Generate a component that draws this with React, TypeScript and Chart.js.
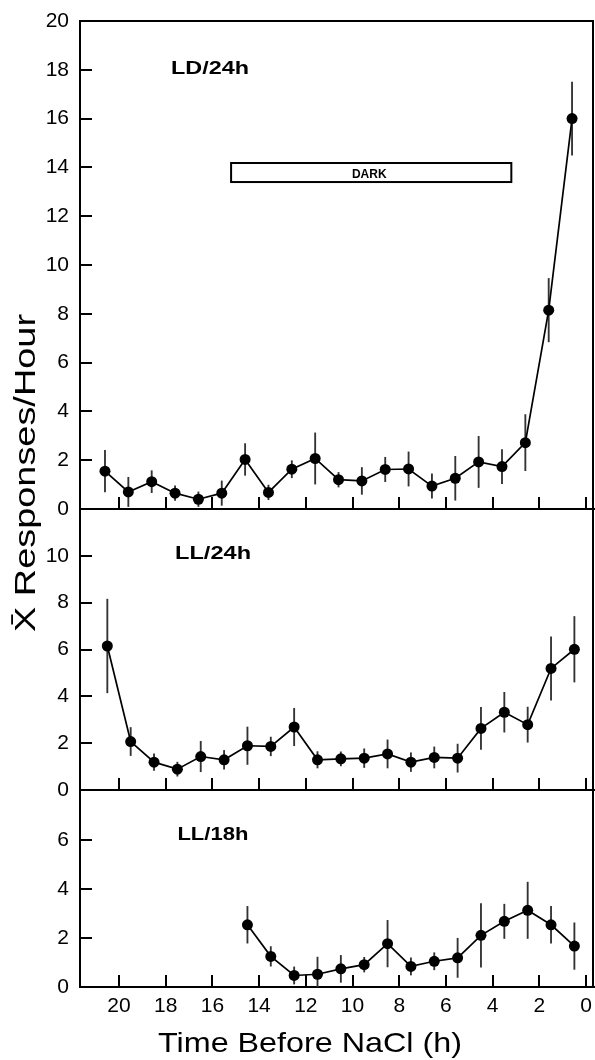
import React, { useEffect, useRef } from 'react';
import { Chart, registerables } from 'chart.js';

Chart.register(...registerables);

const W = 595;
const H = 1060;
const FONT = '"Liberation Sans", Arial, Helvetica, sans-serif';

// ---- data ----
const xTickValues = [20, 18, 16, 14, 12, 10, 8, 6, 4, 2, 0];

const ldHours = [20.6, 19.6, 18.6, 17.6, 16.6, 15.6, 14.6, 13.6, 12.6, 11.6, 10.6, 9.6, 8.6, 7.6, 6.6, 5.6, 4.6, 3.6, 2.6, 1.6, 0.6];
const ldMeans = [1.55, 0.7, 1.12, 0.65, 0.4, 0.65, 2.03, 0.68, 1.63, 2.07, 1.2, 1.15, 1.62, 1.64, 0.94, 1.26, 1.93, 1.74, 2.72, 8.15, 16.0];
const ldSem = [0.85, 0.6, 0.45, 0.3, 0.3, 0.5, 0.65, 0.3, 0.35, 1.05, 0.3, 0.55, 0.5, 0.7, 0.5, 0.9, 1.05, 0.7, 1.15, 1.3, 1.5];
const ldYTicks = [0, 2, 4, 6, 8, 10, 12, 14, 16, 18, 20];
const darkPeriod = [15.2, 3.2];
const darkBand = [13.4, 14.18];

const ll24Hours = [20.5, 19.5, 18.5, 17.5, 16.5, 15.5, 14.5, 13.5, 12.5, 11.5, 10.5, 9.5, 8.5, 7.5, 6.5, 5.5, 4.5, 3.5, 2.5, 1.5, 0.5];
const ll24Means = [6.15, 2.07, 1.19, 0.89, 1.43, 1.29, 1.89, 1.86, 2.69, 1.29, 1.33, 1.36, 1.54, 1.19, 1.39, 1.36, 2.63, 3.32, 2.79, 5.19, 6.01];
const ll24Sem = [2.0, 0.6, 0.35, 0.3, 0.65, 0.4, 0.8, 0.4, 0.8, 0.35, 0.3, 0.4, 0.6, 0.4, 0.45, 0.6, 0.9, 0.85, 0.75, 1.35, 1.4];
const ll24YTicks = [0, 2, 4, 6, 8, 10];

const ll18Hours = [14.5, 13.5, 12.5, 11.5, 10.5, 9.5, 8.5, 7.5, 6.5, 5.5, 4.5, 3.5, 2.5, 1.5, 0.5];
const ll18Means = [2.54, 1.25, 0.47, 0.52, 0.74, 0.91, 1.77, 0.84, 1.05, 1.19, 2.11, 2.68, 3.13, 2.54, 1.67];
const ll18Sem = [0.75, 0.4, 0.35, 0.7, 0.55, 0.3, 0.95, 0.35, 0.35, 0.8, 1.3, 0.7, 1.15, 0.75, 0.95];
const ll18YTicks = [0, 2, 4, 6];

const xTitle = 'Time Before NaCl (h)';
const yTitle = 'X\u0304 Responses/Hour';

// ---- layout ----
type Panel = {
  key: string;
  label: string;
  hours: number[];
  means: number[];
  sem: number[];
  yMax: number;
  yTicks: number[];
  top: number;
  bottom: number;
  showX: boolean;
  frameTop: boolean;
  dark: boolean;
  yTitle: boolean;
  xTitle: boolean;
  labelPos: [number, number];
  labelW: number;
};

const panels: Panel[] = [
  { key: 'ld', label: 'LD/24h', hours: ldHours, means: ldMeans, sem: ldSem, yMax: 20, yTicks: ldYTicks, top: 21, bottom: 509, showX: false, frameTop: true, dark: true, yTitle: false, xTitle: false, labelPos: [17.77, 17.83], labelW: 78 },
  { key: 'll24', label: 'LL/24h', hours: ll24Hours, means: ll24Means, sem: ll24Sem, yMax: 12, yTicks: ll24YTicks, top: 509, bottom: 790, showX: false, frameTop: false, dark: false, yTitle: true, xTitle: false, labelPos: [17.6, 9.86], labelW: 76 },
  { key: 'll18', label: 'LL/18h', hours: ll18Hours, means: ll18Means, sem: ll18Sem, yMax: 8, yTicks: ll18YTicks, top: 791, bottom: 987, showX: true, frameTop: false, dark: false, yTitle: false, xTitle: true, labelPos: [17.5, 6.0], labelW: 71 },
];

const AXIS_LEFT = 80;
const X_MIN = -0.34;
const X_MAX = 21.67;
const TICK_LEN = 12;

function fitText(
  ctx: CanvasRenderingContext2D,
  text: string,
  x: number,
  y: number,
  font: string,
  width: number,
  align: CanvasTextAlign,
  rot = 0
) {
  ctx.save();
  ctx.font = font;
  ctx.translate(x, y);
  ctx.rotate(rot);
  const w = ctx.measureText(text).width;
  ctx.scale(width / w, 1);
  ctx.textAlign = align;
  ctx.textBaseline = 'alphabetic';
  ctx.fillStyle = '#000';
  ctx.fillText(text, 0, 0);
  ctx.restore();
}

function PanelChart({ p }: { p: Panel }) {
  const ref = useRef<HTMLCanvasElement | null>(null);

  useEffect(() => {
    if (!ref.current) return;
    const xAxisH = p.showX ? H - p.bottom : 0;

    const framePlugin = {
      id: 'frame_' + p.key,
      afterDraw(chart: any) {
        const { ctx, chartArea: a, scales } = chart;
        const xs = scales.x;
        const ys = scales.y;
        ctx.save();
        ctx.strokeStyle = '#000';
        ctx.lineWidth = 2;
        ctx.beginPath();
        for (const v of xTickValues) {
          const px = Math.round(xs.getPixelForValue(v));
          ctx.moveTo(px, a.bottom);
          ctx.lineTo(px, a.bottom - TICK_LEN);
        }
        for (const v of p.yTicks) {
          if (v === 0) continue;
          const py = Math.round(ys.getPixelForValue(v));
          ctx.moveTo(a.left, py);
          ctx.lineTo(a.left + TICK_LEN, py);
        }
        ctx.stroke();
        // right border
        ctx.beginPath();
        ctx.moveTo(a.right - 1, a.top);
        ctx.lineTo(a.right - 1, a.bottom);
        if (p.frameTop) {
          ctx.moveTo(a.left, a.top);
          ctx.lineTo(a.right, a.top);
        }
        ctx.stroke();

        if (p.dark) {
          const x1 = xs.getPixelForValue(darkPeriod[0]);
          const x2 = xs.getPixelForValue(darkPeriod[1]);
          const y1 = ys.getPixelForValue(darkBand[1]);
          const y2 = ys.getPixelForValue(darkBand[0]);
          ctx.fillStyle = '#fff';
          ctx.fillRect(x1, y1, x2 - x1, y2 - y1);
          ctx.lineWidth = 2;
          ctx.strokeRect(x1, y1, x2 - x1, y2 - y1);
          ctx.fillStyle = '#000';
          ctx.font = `bold 12px ${FONT}`;
          ctx.textAlign = 'center';
          ctx.textBaseline = 'alphabetic';
          ctx.fillText('DARK', (x1 + x2) / 2 - 2, y2 - 4.5);
        }

        // panel label
        fitText(
          ctx,
          p.label,
          xs.getPixelForValue(p.labelPos[0]),
          ys.getPixelForValue(p.labelPos[1]),
          `bold 19px ${FONT}`,
          p.labelW,
          'left'
        );

        if (p.yTitle) {
          fitText(ctx, yTitle, 35, 473, `29px ${FONT}`, 318, 'center', -Math.PI / 2);
        }
        if (p.xTitle) {
          fitText(ctx, xTitle, 310, 1052, `28px ${FONT}`, 304, 'center');
        }
        ctx.restore();
      },
    };

    const chart = new Chart(ref.current, {
      type: 'line',
      data: {
        datasets: [
          {
            type: 'line',
            data: p.hours.map((h, i) => ({ x: h, y: p.means[i] })),
            borderColor: '#000',
            borderWidth: 1.7,
            pointRadius: 5.5,
            pointHoverRadius: 5.5,
            pointBackgroundColor: '#000',
            pointBorderWidth: 0,
            tension: 0,
            fill: false,
            order: 0,
          },
          {
            type: 'bar',
            data: p.hours.map((h, i) => ({ x: h, y: [p.means[i] - p.sem[i], p.means[i] + p.sem[i]] })),
            backgroundColor: '#333',
            borderWidth: 0,
            barThickness: 1.2,
            order: 1,
          } as any,
        ],
      },
      options: {
        responsive: false,
        animation: false,
        devicePixelRatio: 1,
        events: [],
        layout: { autoPadding: false, padding: { left: 0, right: 1, top: p.top, bottom: H - p.bottom - xAxisH } },
        plugins: { legend: { display: false }, tooltip: { enabled: false } },
        scales: {
          x: {
            type: 'linear',
            reverse: true,
            offset: false,
            min: X_MIN,
            max: X_MAX,
            afterBuildTicks: (s: any) => {
              s.ticks = xTickValues.map((v) => ({ value: v }));
            },
            afterFit: (s: any) => {
              s.height = xAxisH;
              s.paddingLeft = 0;
              s.paddingRight = 0;
              s.paddingTop = 0;
              s.paddingBottom = 0;
            },
            grid: { display: true, offset: false, drawOnChartArea: false, drawTicks: false },
            border: { display: true, color: '#000', width: 2 },
            ticks: {
              display: p.showX,
              font: { family: FONT, size: 21 },
              color: '#000',
              padding: 7,
              maxRotation: 0,
              autoSkip: false,
            },
          },
          y: {
            type: 'linear',
            min: 0,
            max: p.yMax,
            afterBuildTicks: (s: any) => {
              s.ticks = p.yTicks.map((v) => ({ value: v }));
            },
            afterFit: (s: any) => {
              s.width = AXIS_LEFT;
              s.paddingLeft = 0;
              s.paddingRight = 0;
              s.paddingTop = 0;
              s.paddingBottom = 0;
            },
            grid: { display: true, drawOnChartArea: false, drawTicks: false },
            border: { display: true, color: '#000', width: 2 },
            ticks: {
              font: { family: FONT, size: 21 },
              color: '#000',
              padding: 11,
              autoSkip: false,
            },
          },
        },
      } as any,
      plugins: [framePlugin],
    });
    return () => chart.destroy();
  }, [p]);

  return (
    <canvas
      ref={ref}
      width={W}
      height={H}
      style={{ position: 'absolute', left: 0, top: 0, width: W, height: H }}
    />
  );
}

export default function App() {
  return (
    <div style={{ position: 'absolute', left: 0, top: 0, width: W, height: H, background: '#fff' }}>
      {panels.map((p) => (
        <PanelChart key={p.key} p={p} />
      ))}
    </div>
  );
}
